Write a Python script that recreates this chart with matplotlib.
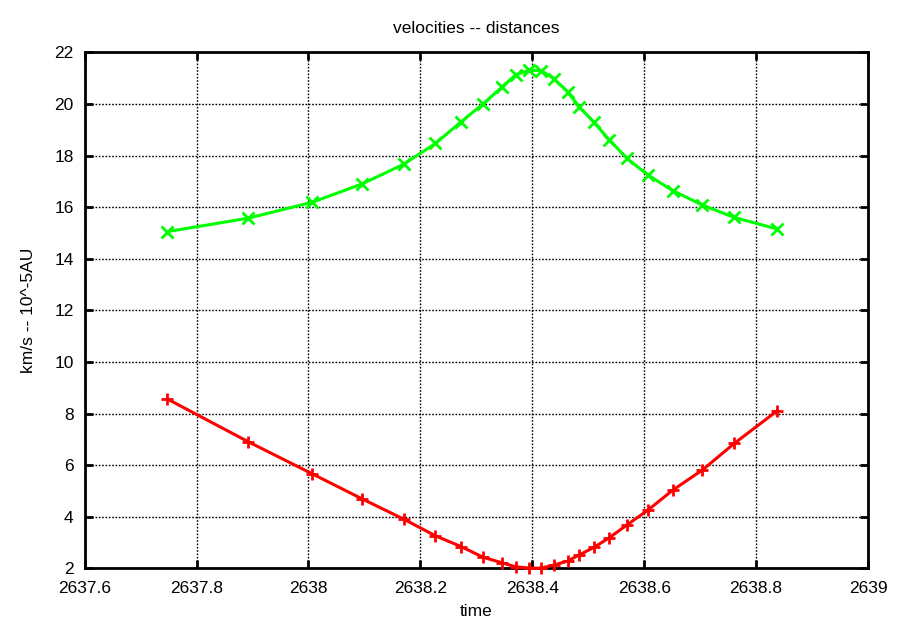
import matplotlib
matplotlib.use("Agg")
import matplotlib.pyplot as plt

plt.rcParams['font.family'] = ['Liberation Sans', 'DejaVu Sans']

# Sample times (days)
time = [2637.748, 2637.892, 2638.007, 2638.096, 2638.170, 2638.227, 2638.273,
        2638.312, 2638.345, 2638.370, 2638.395, 2638.416, 2638.439, 2638.463,
        2638.484, 2638.510, 2638.538, 2638.569, 2638.607, 2638.651, 2638.704,
        2638.761, 2638.838]

# Relative velocity (km/s)
velocity = [15.05, 15.57, 16.19, 16.90, 17.66, 18.47, 19.31, 20.00, 20.64,
            21.12, 21.31, 21.29, 20.97, 20.47, 19.89, 19.29, 18.60, 17.89,
            17.24, 16.64, 16.08, 15.60, 15.15]

# Distance (1e-5 AU)
distance = [8.56, 6.91, 5.66, 4.69, 3.91, 3.26, 2.84, 2.43, 2.22, 2.06, 2.01,
            2.01, 2.13, 2.28, 2.52, 2.81, 3.19, 3.68, 4.26, 5.03, 5.81, 6.84,
            8.11]

x_ticks = [2637.6, 2637.8, 2638.0, 2638.2, 2638.4, 2638.6, 2638.8, 2639.0]
x_tick_labels = ["2637.6", "2637.8", "2638", "2638.2", "2638.4", "2638.6",
                 "2638.8", "2639"]
y_ticks = [2, 4, 6, 8, 10, 12, 14, 16, 18, 20, 22]

fig = plt.figure(figsize=(8.99, 6.37), dpi=100)
ax = fig.add_axes([0.0942, 0.1078, 0.8713, 0.8101])

ax.plot(time, distance, color='#ff0000', lw=2.2, marker='+', ms=9, mew=2,
        clip_on=False, zorder=3)
ax.plot(time, velocity, color='#00ff00', lw=2.2, marker='x', ms=8, mew=2,
        clip_on=False, zorder=3)

ax.set_xlim(2637.6, 2639.0)
ax.set_ylim(2, 22)
ax.set_xticks(x_ticks)
ax.set_xticklabels(x_tick_labels)
ax.set_yticks(y_ticks)

ax.grid(True, color='black', linestyle=(0, (1.2, 1.2)), linewidth=1.0)
ax.set_axisbelow(True)

ax.tick_params(axis='both', which='major', direction='in', length=6, width=2,
               labelsize=12.5, top=True, right=True, pad=8)
ax.tick_params(axis='x', pad=9)
for sp in ax.spines.values():
    sp.set_linewidth(2)

ax.set_title("velocities -- distances", fontsize=12.5, pad=14)
ax.set_xlabel("time", fontsize=12.5, labelpad=6)
ax.set_ylabel("km/s -- 10^-5AU", fontsize=12.5, labelpad=13)

fig.savefig("out.png", dpi=100)
